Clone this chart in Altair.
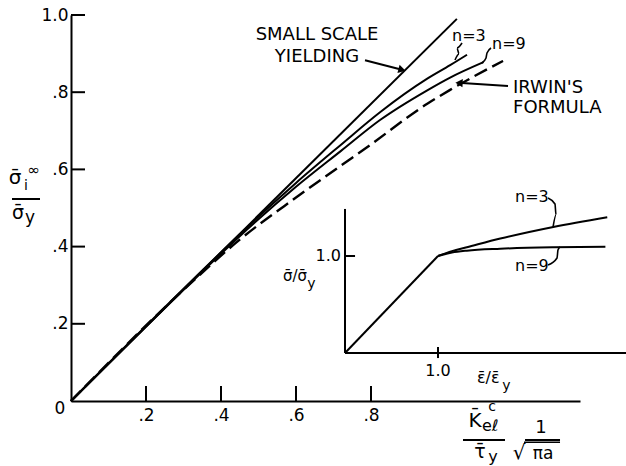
import altair as alt
import pandas as pd

FONT = "DejaVu Sans"

# ---------------- main chart data ----------------
ssy_x = [0.0, 1.029]
ssy_y = [0.0, 0.990]
n3_x = [0.0, 0.35, 0.45, 0.60, 0.72, 0.824, 0.95, 1.011, 1.056]
n3_y = [0.0, 0.338, 0.432, 0.565, 0.664, 0.748, 0.835, 0.870, 0.897]
n9_x = [0.0, 0.35, 0.45, 0.60, 0.72, 0.824, 0.95, 1.011, 1.10]
n9_y = [0.0, 0.335, 0.427, 0.555, 0.648, 0.728, 0.805, 0.838, 0.878]
irwin_x = [0.0, 0.30, 0.45, 0.60, 0.72, 0.779, 0.95, 1.011, 1.152]
irwin_y = [0.0, 0.288, 0.418, 0.527, 0.610, 0.650, 0.770, 0.806, 0.881]
x_ticks = [0.2, 0.4, 0.6, 0.8]
y_ticks = [0.2, 0.4, 0.6, 0.8, 1.0]

# ---------------- inset (stress-strain) data ----------------
el_x = [0.0, 1.0]
el_y = [0.0, 1.0]
in3_x = [1.0, 1.15, 1.31, 1.67, 2.24, 2.82]
in3_y = [1.0, 1.05, 1.09, 1.18, 1.30, 1.40]
in9_x = [1.0, 1.15, 1.31, 1.67, 2.24, 2.80]
in9_y = [1.0, 1.035, 1.055, 1.075, 1.09, 1.095]
inset_tick = [1.0]

W, H = 509, 386
XS = alt.Scale(domain=[0, 1.3573], nice=False, zero=False)
YS = alt.Scale(domain=[0, 1.0], nice=False, zero=False)
IXS = alt.Scale(domain=[-2.9462, 2.5269], nice=False, zero=False)
IYS = alt.Scale(domain=[-0.4948, 3.4845], nice=False, zero=False)

LBL = "replace(format(datum.value, '.1f'), '0.', '.')"
X_AXIS = alt.Axis(values=x_ticks, ticks=False, tickSize=0, grid=False, title=None, domainColor="black",
                  domainWidth=2, labelFont=FONT, labelFontSize=17, labelColor="black", labelPadding=6,
                  labelExpr=LBL)
Y_AXIS = alt.Axis(values=y_ticks, ticks=False, tickSize=0, grid=False, title=None, domainColor="black",
                  domainWidth=2, labelFont=FONT, labelFontSize=17, labelColor="black", labelPadding=3,
                  labelExpr=LBL)


def X(f, s):
    return alt.X(f"{f}:Q", scale=s, axis=X_AXIS if s is XS else None)


def Y(f, s):
    return alt.Y(f"{f}:Q", scale=s, axis=Y_AXIS if s is YS else None)


def series(name, xs, ys):
    return pd.DataFrame({"x": xs, "y": ys, "s": name})


def texts(items, align, xs, ys):
    df = pd.DataFrame(items, columns=["x", "y", "t", "fs"])
    return alt.Chart(df).mark_text(align=align, baseline="middle", font=FONT, color="black").encode(
        x=X("x", xs), y=Y("y", ys), text="t:N",
        size=alt.Size("fs:Q", scale=None, legend=None))


def rules(items, xs, ys, width=2):
    df = pd.DataFrame(items, columns=["x", "x2", "y", "y2"])
    return alt.Chart(df).mark_rule(color="black", strokeWidth=width).encode(
        x=X("x", xs), x2="x2:Q", y=Y("y", ys), y2="y2:Q")


def polylines(items, xs, ys, width=1.6):
    df = pd.DataFrame(items, columns=["id", "o", "x", "y"])
    return alt.Chart(df).mark_line(color="black", strokeWidth=width, interpolate="monotone").encode(
        x=X("x", xs), y=Y("y", ys), detail="id:N", order="o:Q")


# ---------------- main layers ----------------
solid_df = pd.concat([series("ssy", ssy_x, ssy_y), series("n3", n3_x, n3_y), series("n9", n9_x, n9_y)])

solid = alt.Chart(solid_df).mark_line(color="black", strokeWidth=2, interpolate="monotone").encode(
    x=X("x", XS), y=Y("y", YS), detail="s:N")
dashed = alt.Chart(series("irwin", irwin_x, irwin_y)).mark_line(
    color="black", strokeWidth=2.4, strokeDash=[14, 6], interpolate="monotone").encode(
    x=X("x", XS), y=Y("y", YS))

xt = alt.Chart(pd.DataFrame({"x": x_ticks})).mark_rule(color="black", strokeWidth=2).encode(
    x=X("x", XS), y=alt.value(H), y2=alt.value(H - 15))
yt = alt.Chart(pd.DataFrame({"y": y_ticks})).mark_rule(color="black", strokeWidth=2).encode(
    y=Y("y", YS), x=alt.value(0), x2=alt.value(14))

main_center = texts([
    (0.656, 0.9482, "SMALL SCALE", 18),
    (0.656, 0.8912, "YIELDING", 18),
    (-0.0293, -0.0207, "0", 17),
    (-0.1493, 0.5777, "\u03c3\u0304", 20),
    (-0.0990, 0.5985, "\u221e", 15),
    (-0.1200, 0.5570, "i", 14),
    (-0.1413, 0.4870, "\u03c3\u0304", 19),
    (-0.1093, 0.4741, "y", 17),
    (1.0773, -0.0518, "K\u0304", 20),
    (1.1227, -0.0165, "c", 14),
    (1.0907, -0.1321, "\u03c4\u0304", 19),
    (1.1253, -0.1451, "y", 16),
    (1.2533, -0.0699, "1", 18),
    (1.1947, -0.1347, "\u221a", 20),
    (1.2587, -0.1373, "\u03c0a", 17),
], "center", XS, YS)
main_left = texts([
    (1.016, 0.9456, "n=3", 16),
    (1.1227, 0.9249, "n=9", 16),
    (1.1787, 0.8109, "IRWIN'S", 18),
    (1.1787, 0.7591, "FORMULA", 18),
    (1.0960, -0.0640, "e\u2113", 16),
], "left", XS, YS)

main_rules = rules([
    (-0.1573, -0.0827, 0.5233, 0.5233),
    (1.0453, 1.1573, -0.1010, -0.1010),
    (1.2107, 1.3040, -0.1010, -0.1010),
    (0.784, 0.8747, 0.883, 0.860),
    (1.1653, 1.0427, 0.8161, 0.8238),
], XS, YS)
vinc = rules([(1.2080, 1.3040, -0.1070, -0.1070)], XS, YS, width=1.4)

heads = pd.DataFrame({"x": [0.8827], "y": [0.858]})
head1 = alt.Chart(heads).mark_point(shape="triangle-right", filled=True, size=70, color="black",
                                    opacity=1, angle=15).encode(x=X("x", XS), y=Y("y", YS))
heads2 = pd.DataFrame({"x": [1.0347], "y": [0.8240]})
head2 = alt.Chart(heads2).mark_point(shape="triangle-left", filled=True, size=70, color="black",
                                     opacity=1, angle=3).encode(x=X("x", XS), y=Y("y", YS))

main_leaders = polylines([
    ("a", 0, 1.0427, 0.9275), ("a", 1, 1.0293, 0.9145), ("a", 2, 1.0347, 0.8990), ("a", 3, 1.0240, 0.8834),
    ("b", 0, 1.1200, 0.9145), ("b", 1, 1.1093, 0.9016), ("b", 2, 1.1067, 0.8886), ("b", 3, 1.0960, 0.8756),
], XS, YS)

main = alt.layer(solid, dashed, xt, yt, main_rules, vinc, head1, head2, main_leaders, main_center, main_left)

# ---------------- inset layers ----------------
inset_df = pd.concat([series("el", el_x, el_y), series("n3", in3_x, in3_y), series("n9", in9_x, in9_y)])
inset_lines = alt.Chart(inset_df).mark_line(color="black", strokeWidth=2, interpolate="monotone").encode(
    x=X("x", IXS), y=Y("y", IYS), detail="s:N")
inset_axes = rules([
    (0.0, 3.03, 0.0, 0.0),
    (0.0, 0.0, 0.0, 1.485),
    (inset_tick[0], inset_tick[0], -0.052, 0.062),
    (0.0, 0.108, inset_tick[0], inset_tick[0]),
], IXS, IYS)
inset_leaders = polylines([
    ("a", 0, 2.183, 1.598), ("a", 1, 2.258, 1.536), ("a", 2, 2.269, 1.423), ("a", 3, 2.237, 1.299),
    ("b", 0, 2.183, 0.907), ("b", 1, 2.280, 0.979), ("b", 2, 2.290, 1.062), ("b", 3, 2.312, 1.095),
], IXS, IYS)
inset_center = texts([
    (1.0, -0.186, "1.0", 16),
], "center", IXS, IYS)
inset_right = texts([
    (-0.043, 1.0, "1.0", 16),
], "right", IXS, IYS)
inset_left = texts([
    (1.828, 1.608, "n=3", 16),
    (1.828, 0.897, "n=9", 16),
    (-0.667, 0.794, "\u03c3\u0304/\u03c3\u0304", 15),
    (-0.405, 0.711, "y", 14),
    (1.419, -0.258, "\u03b5\u0304/\u03b5\u0304", 16),
    (1.690, -0.340, "y", 14),
], "left", IXS, IYS)

inset = alt.layer(inset_lines, inset_axes, inset_leaders, inset_center, inset_right, inset_left)

chart = alt.layer(main, inset).resolve_scale(x="independent", y="independent").properties(
    width=W, height=H,
    padding={"left": 71, "top": 15, "right": 46, "bottom": 65},
    autosize=alt.AutoSizeParams(type="none"),
    background="white",
).configure_view(stroke=None)

chart.save("out.html", embed_options={"renderer": "svg", "actions": False})
